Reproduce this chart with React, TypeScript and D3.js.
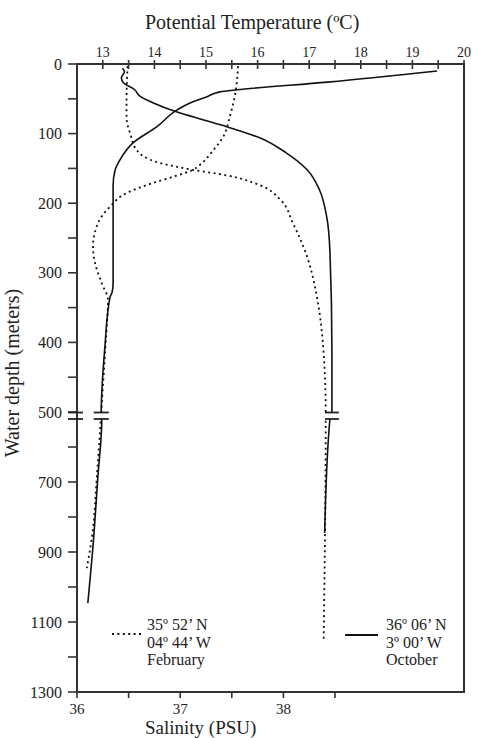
import * as d3 from "d3";

// readings taken off the figure: depth (m) and value
const febTempDepth = [3, 37, 76, 105, 124, 145, 152, 162, 171, 185, 205, 228, 263, 286, 315, 339, 407, 500, 523, 694, 846, 946];
const febTemp = [15.62, 15.58, 15.46, 15.33, 15.14, 14.88, 14.75, 14.36, 13.97, 13.47, 13.14, 12.91, 12.81, 12.85, 12.98, 13.1, 13.05, 12.97, 12.96, 12.88, 12.8, 12.69];

const octTempDepth = [10, 26, 37, 40, 47, 56, 66, 90, 113, 138, 152, 174, 195, 315, 328, 335, 407, 500, 523, 694, 846, 1046];
const octTemp = [19.48, 17.35, 15.6, 15.27, 15.02, 14.69, 14.44, 14.05, 13.59, 13.33, 13.24, 13.2, 13.2, 13.2, 13.18, 13.14, 13.04, 12.97, 12.98, 12.9, 12.83, 12.71];

const febSalDepth = [3, 52, 76, 102, 124, 142, 152, 160, 174, 195, 228, 277, 339, 397, 500, 523, 1151];
const febSal = [36.49, 36.48, 36.48, 36.52, 36.58, 36.8, 37.12, 37.45, 37.77, 37.97, 38.09, 38.23, 38.33, 38.38, 38.41, 38.41, 38.39];

const octSalDepth = [6, 11, 20, 27, 37, 45, 56, 69, 80, 90, 106, 128, 152, 181, 220, 267, 411, 500, 523, 846];
const octSal = [36.44, 36.46, 36.43, 36.45, 36.56, 36.6, 36.74, 36.97, 37.22, 37.45, 37.77, 38.03, 38.23, 38.35, 38.42, 38.45, 38.47, 38.47, 38.45, 38.4];

const tempTicks = d3.range(13, 20.01, 0.5);
const tempLabels = [13, 14, 15, 16, 17, 18, 19, 20];
const salTicks = [36, 36.5, 37, 37.5, 38, 38.5];
const salLabels = [36, 37, 38];
const depthTicks = [...d3.range(0, 501, 50), ...d3.range(600, 1301, 100)];
const depthLabels = [0, 100, 200, 300, 400, 500, 700, 900, 1100, 1300];
const breakDepth = 500;

const W = 478, H = 738;
const left = 77, right = 464, top = 64, bottom = 692;

const yDepth = d3.scaleLinear().domain([0, 500, 1300]).range([top, 412, bottom]);
const xTemp = d3.scaleLinear().domain([12.5, 20]).range([left, right]);
const xSal = d3.scaleLinear().domain([36, 39.75]).range([left, right]);

const font = "'Liberation Serif', 'Times New Roman', serif";
const ink = "#222";
const dots = "2,3.4";

function path(depths: number[], vals: number[], x: d3.ScaleLinear<number, number>) {
  const pts = depths.map((d, i) => [x(vals[i]), yDepth(d)] as [number, number]);
  return d3.line().curve(d3.curveMonotoneY)(pts) || "";
}

function atDepth(depths: number[], vals: number[], d: number) {
  return d3.scaleLinear().domain(depths).range(vals)(d);
}

const BreakMark = ({ cx, half }: { cx: number; half: number }) => {
  const y0 = yDepth(breakDepth) + 0.5;
  return (
    <g>
      <rect x={cx - half} y={y0} width={half * 2} height={6} fill="white" />
      <line x1={cx - half} x2={cx + half} y1={y0} y2={y0} stroke={ink} strokeWidth={1.8} />
      <line x1={cx - half} x2={cx + half} y1={y0 + 6.5} y2={y0 + 6.5} stroke={ink} strokeWidth={1.8} />
    </g>
  );
};

export default function App() {
  const tempBreakX = xTemp(atDepth(octTempDepth, octTemp, breakDepth));
  const salBreakX = xSal(atDepth(octSalDepth, octSal, breakDepth));
  return (
    <svg width={W} height={H} style={{ position: "absolute", left: 0, top: 0, background: "white" }} fontFamily={font}>
      {/* curves */}
      <path d={path(febTempDepth, febTemp, xTemp)} fill="none" stroke="#111" strokeWidth={1.8} strokeDasharray={dots} />
      <path d={path(febSalDepth, febSal, xSal)} fill="none" stroke="#111" strokeWidth={1.8} strokeDasharray={dots} />
      <path d={path(octTempDepth, octTemp, xTemp)} fill="none" stroke="#111" strokeWidth={1.6} />
      <path d={path(octSalDepth, octSal, xSal)} fill="none" stroke="#111" strokeWidth={1.6} />

      <BreakMark cx={tempBreakX} half={7.5} />
      <BreakMark cx={salBreakX} half={7} />

      {/* frame */}
      <rect x={left} y={top} width={right - left} height={bottom - top} fill="none" stroke="#333" strokeWidth={2} />

      {/* top axis: temperature */}
      {tempTicks.map((t) => (
        <line key={"tt" + t} x1={xTemp(t)} x2={xTemp(t)} y1={top - 4} y2={top + 5} stroke="#333" strokeWidth={1.6} />
      ))}
      {tempLabels.map((t) => (
        <text key={"tl" + t} x={xTemp(t)} y={57} fontSize={14} textAnchor="middle" fill={ink}>{t}</text>
      ))}
      <text x={145} y={29} fontSize={20} fill={ink}>Potential Temperature (ºC)</text>

      {/* bottom axis: salinity */}
      {salTicks.map((s) => (
        <line key={"st" + s} x1={xSal(s)} x2={xSal(s)} y1={bottom} y2={bottom + 6} stroke="#333" strokeWidth={1.6} />
      ))}
      {salLabels.map((s) => (
        <text key={"sl" + s} x={xSal(s)} y={714} fontSize={15} textAnchor="middle" fill={ink}>{s}</text>
      ))}
      <text x={145} y={734} fontSize={19} fill={ink}>Salinity (PSU)</text>

      {/* left axis: depth */}
      {depthTicks.map((d) => (
        <line key={"dt" + d} x1={left - 9} x2={left} y1={yDepth(d)} y2={yDepth(d)} stroke="#333" strokeWidth={1.6} />
      ))}
      {depthLabels.map((d) => (
        <text key={"dl" + d} x={62} y={yDepth(d)} dy="0.35em" fontSize={16} textAnchor="end" fill={ink}>{d}</text>
      ))}
      <line x1={68} x2={83} y1={yDepth(breakDepth) + 0.5} y2={yDepth(breakDepth) + 0.5} stroke={ink} strokeWidth={1.8} />
      <line x1={68} x2={83} y1={yDepth(breakDepth) + 7} y2={yDepth(breakDepth) + 7} stroke={ink} strokeWidth={1.8} />
      <text transform={`translate(19,373) rotate(-90)`} fontSize={20} textAnchor="middle" fill={ink}>Water depth (meters)</text>

      {/* legend */}
      <line x1={112} x2={143} y1={634} y2={634} stroke="#111" strokeWidth={1.8} strokeDasharray={dots} />
      <text x={147} fontSize={16} fill={ink}>
        <tspan x={147} y={630}>35º 52’ N</tspan>
        <tspan x={147} y={648}>04º 44’ W</tspan>
        <tspan x={147} y={665}>February</tspan>
      </text>
      <line x1={345} x2={378} y1={635} y2={635} stroke="#111" strokeWidth={1.8} />
      <text x={386} fontSize={16} fill={ink}>
        <tspan x={386} y={630}>36º 06’ N</tspan>
        <tspan x={386} y={648}>3º 00’ W</tspan>
        <tspan x={386} y={665}>October</tspan>
      </text>
    </svg>
  );
}
